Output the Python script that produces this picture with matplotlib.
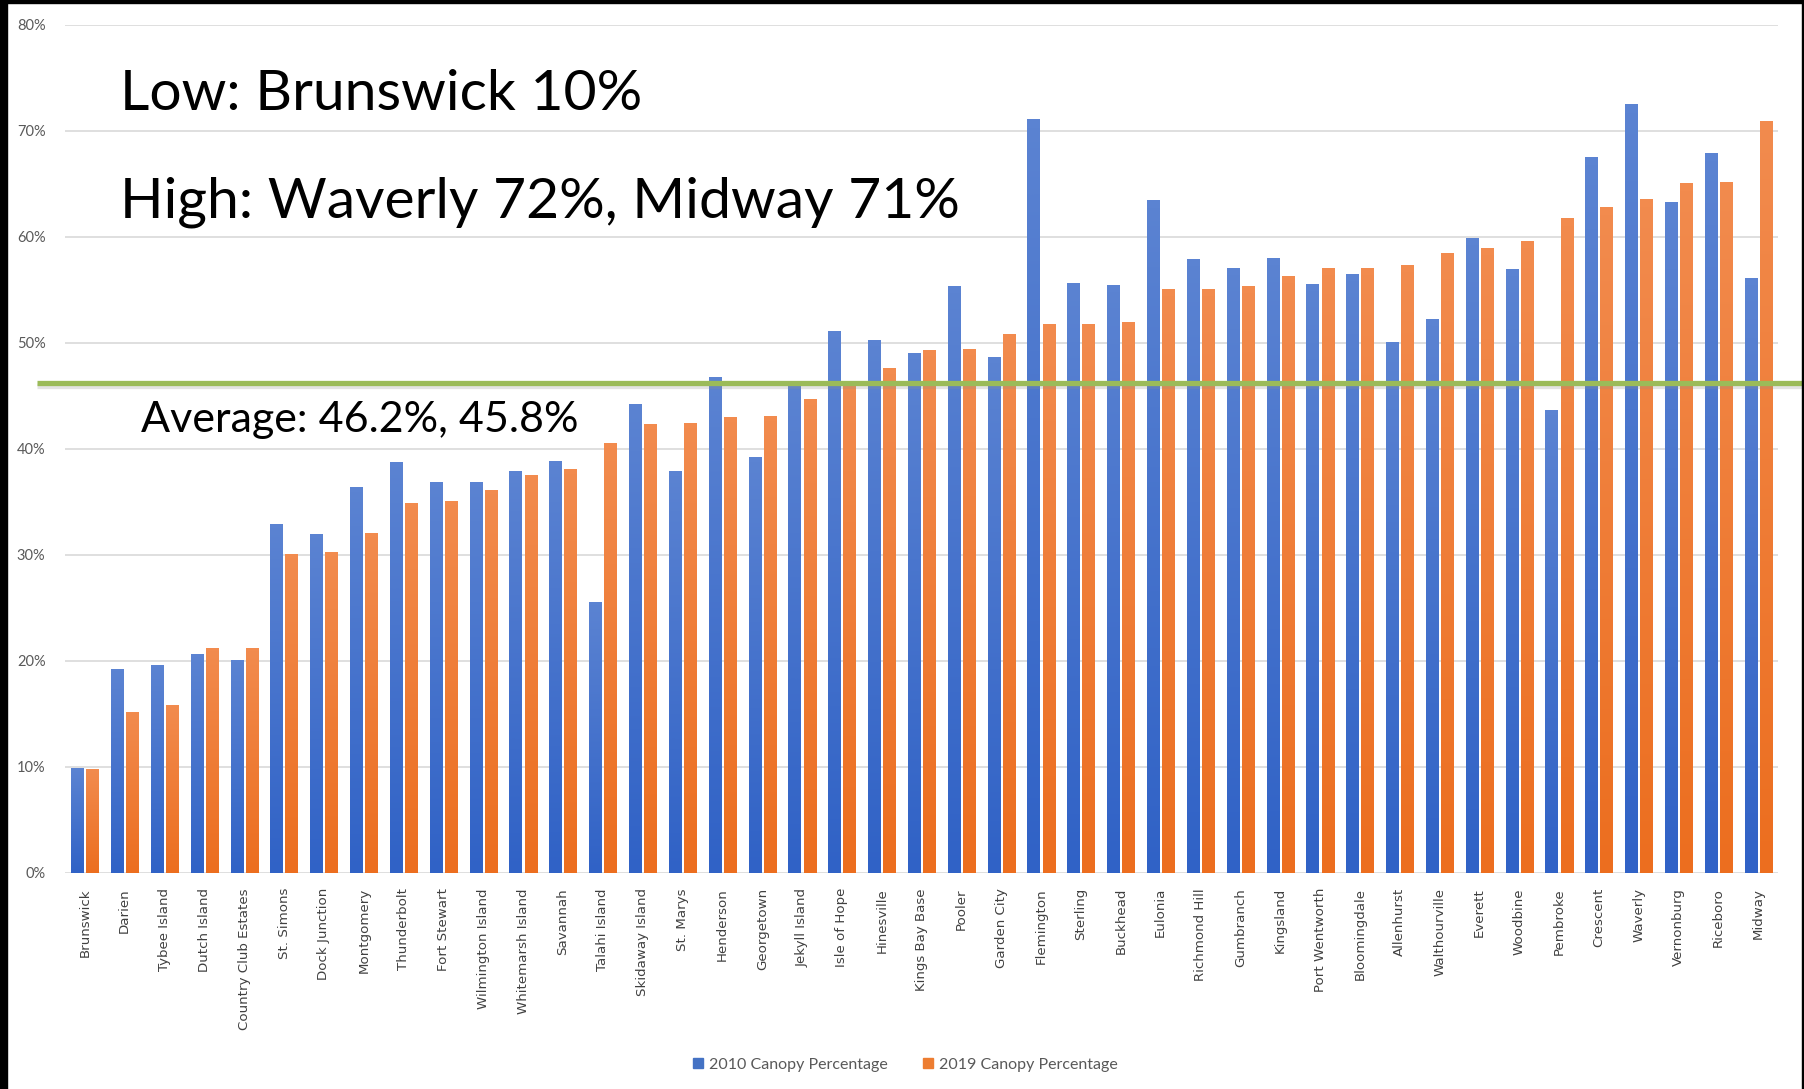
#!/usr/bin/env python3
# Canopy percentage by community, 2010 vs 2019

from matplotlib import pyplot as plt
from matplotlib import patheffects as pe
from matplotlib import transforms as mtransforms
from matplotlib.colors import LinearSegmentedColormap
from matplotlib.patches import Patch, Rectangle

import numpy as np

communities = ['Brunswick', 'Darien', 'Tybee Island', 'Dutch Island',
               'Country Club Estates', 'St. Simons', 'Dock Junction',
               'Montgomery', 'Thunderbolt', 'Fort Stewart', 'Wilmington Island',
               'Whitemarsh Island', 'Savannah', 'Talahi Island',
               'Skidaway Island', 'St. Marys', 'Henderson', 'Georgetown',
               'Jekyll Island', 'Isle of Hope', 'Hinesville', 'Kings Bay Base',
               'Pooler', 'Garden City', 'Flemington', 'Sterling', 'Buckhead',
               'Eulonia', 'Richmond Hill', 'Gumbranch', 'Kingsland',
               'Port Wentworth', 'Bloomingdale', 'Allenhurst', 'Walthourville',
               'Everett', 'Woodbine', 'Pembroke', 'Crescent', 'Waverly',
               'Vernonburg', 'Riceboro', 'Midway']

canopy_2010 = [9.9, 19.2, 19.6, 20.6, 20.0, 32.9, 31.9, 36.4, 38.7, 36.8,
               36.8, 37.9, 38.8, 25.5, 44.2, 37.9, 46.7, 39.2, 46.3, 51.1,
               50.2, 49.0, 55.3, 48.6, 71.1, 55.6, 55.4, 63.4, 57.9, 57.0,
               58.0, 55.5, 56.5, 50.0, 52.2, 59.9, 56.9, 43.6, 67.5, 72.5,
               63.3, 67.9, 56.1]

canopy_2019 = [9.8, 15.1, 15.8, 21.2, 21.2, 30.0, 30.2, 32.0, 34.9, 35.0,
               36.1, 37.5, 38.1, 40.5, 42.3, 42.4, 43.0, 43.1, 44.7, 46.0,
               47.6, 49.3, 49.4, 50.8, 51.7, 51.7, 51.9, 55.0, 55.0, 55.3,
               56.3, 57.0, 57.0, 57.3, 58.4, 58.9, 59.6, 61.7, 62.8, 63.5,
               65.0, 65.1, 70.9]

y_ticks = [0, 10, 20, 30, 40, 50, 60, 70, 80]
average = 46.2

BLUE = '#4472C4'
ORANGE = '#ED7D31'
blue_grad = LinearSegmentedColormap.from_list('b', ['#3062C6', '#5B83D2'])
orange_grad = LinearSegmentedColormap.from_list('o', ['#EC6E1F', '#F28B4E'])


def shadeBars(ax, bars, cmap):
    """
    Paints a vertical gradient over each bar, lighter at the top.
    """
    grad = np.linspace(0, 1, 64).reshape(-1, 1)
    for bar in bars:
        x0 = bar.get_x()
        x1 = x0 + bar.get_width()
        h = bar.get_height()
        ax.imshow(grad, extent=[x0, x1, 0, h], origin='lower', cmap=cmap,
                  aspect='auto', zorder=bar.get_zorder() + 0.1,
                  interpolation='bilinear')


def main():
    fig = plt.figure(figsize=(18.04, 10.89), dpi=100)
    ax = fig.add_axes([0.036, 0.1986, 0.9498, 0.7787])

    x = np.arange(len(communities))
    w = 0.31
    b1 = ax.bar(x - 0.19, canopy_2010, w, color=BLUE, zorder=2)
    b2 = ax.bar(x + 0.19, canopy_2019, w, color=ORANGE, zorder=2)
    shadeBars(ax, b1, blue_grad)
    shadeBars(ax, b2, orange_grad)

    ax.set_xlim(-0.5, len(communities) - 0.5)
    ax.set_ylim(0, 80)
    ax.set_yticks(y_ticks)
    ax.set_yticklabels(['%d%%' % t for t in y_ticks], family='Lato',
                       fontsize=10.5, color='#595959')
    ax.set_xticks(x)
    ax.set_xticklabels(communities, rotation=90, family='DejaVu Sans',
                       fontsize=9.6, color='#404040', va='top')
    ax.tick_params(axis='both', length=0)
    ax.tick_params(axis='y', pad=14)
    ax.tick_params(axis='x', pad=11)
    ax.grid(axis='y', color='#D9D9D9', linewidth=1.2, zorder=0)
    ax.set_axisbelow(True)
    for s in ax.spines.values():
        s.set_visible(False)

    # average line runs from the left margin to the figure edge
    trans = mtransforms.blended_transform_factory(fig.transFigure, ax.transData)
    ax.plot([0.0205, 1.0], [average, average], transform=trans, color='#9BBB59',
            linewidth=3.8, clip_on=False, zorder=5, solid_capstyle='butt',
            path_effects=[pe.SimpleLineShadow(offset=(0, -2.5), shadow_color='#909090',
                                              alpha=0.25),
                          pe.Normal()])

    fig.text(0.0665, 0.899, 'Low: Brunswick 10%', family='Lato', fontsize=41,
             color='black', va='baseline')
    fig.text(0.0665, 0.800, 'High: Waverly 72%, Midway 71%', family='Lato',
             fontsize=41, color='black', va='baseline')
    fig.text(0.0780, 0.6033, 'Average: 46.2%, 45.8%', family='Lato', fontsize=31,
             color='black', va='baseline')

    handles = [Patch(color=BLUE, label='2010 Canopy Percentage'),
               Patch(color=ORANGE, label='2019 Canopy Percentage')]
    fig.legend(handles=handles, loc='center', bbox_to_anchor=(0.502, 0.022),
               ncol=2, frameon=False, handlelength=0.6, handleheight=0.6,
               handletextpad=0.4, columnspacing=2.2,
               prop={'family': 'Lato', 'size': 11.5}, labelcolor='#595959')

    # black frame strips from the screenshot
    for r in [(0, 0, 7 / 1804, 1), (0, 1 - 3 / 1089, 1, 3 / 1089),
              (1 - 2 / 1804, 0, 2 / 1804, 1)]:
        fig.patches.append(Rectangle(r[:2], r[2], r[3], transform=fig.transFigure,
                                     color='black', zorder=10))

    fig.savefig('out.png', dpi=100)


if __name__ == '__main__':
    main()
